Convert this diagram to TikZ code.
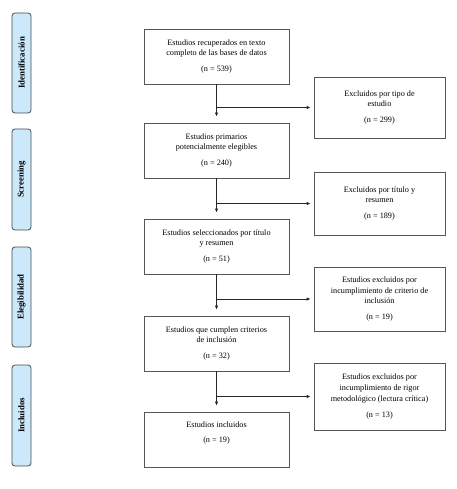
\documentclass[tikz,border=0pt]{standalone}
\usepackage{fontspec}
\setmainfont{Liberation Serif}
\usetikzlibrary{arrows.meta}
\definecolor{phasefill}{HTML}{CCE8FB}
\definecolor{phaseline}{HTML}{4A4A4A}
\definecolor{boxline}{HTML}{555555}
\begin{document}
\begin{tikzpicture}[x=1pt,y=1pt,
  mainbox/.style={draw=boxline, line width=0.8pt, minimum width=145pt, minimum height=55pt, align=center, font=\fontsize{8.2}{10.8}\selectfont, inner sep=2pt},
  exbox/.style={draw=boxline, line width=0.8pt, minimum width=131pt, align=center, font=\fontsize{8.2}{10.8}\selectfont, inner sep=2pt},
  phase/.style={draw=phaseline, line width=0.8pt, fill=phasefill, rounded corners=3pt, minimum width=100pt, minimum height=19pt, rotate=90, font=\fontsize{8.8}{10}\selectfont\bfseries, inner sep=1pt},
  arr/.style={draw=black!85, line width=0.8pt, -{Latex[length=4pt,width=3.5pt]}}
]
\useasboundingbox (0,0) rectangle (456,-489);

% phase labels
\node[phase] (p1) at (21.5,-63) {Identificación};
\node[phase, minimum width=101pt] (p2) at (21.5,-179.5) {Screening};
\node[phase] (p3) at (21.5,-297) {Elegibilidad};
\node[phase, minimum width=101pt] (p4) at (21.5,-415.5) {Incluidos};

% main boxes
\node[mainbox] (b1) at (216.5,-56.5) {Estudios recuperados en texto\\completo de las bases de datos\\[5pt](n = 539)};
\node[mainbox] (b2) at (216.5,-150.5) {Estudios primarios\\potencialmente elegibles\\[5pt](n = 240)};
\node[mainbox] (b3) at (216.5,-246.5) {Estudios seleccionados por título\\y resumen\\[5pt](n = 51)};
\node[mainbox] (b4) at (216.5,-343.5) {Estudios que cumplen criterios\\de inclusión\\[5pt](n = 32)};
\node[mainbox] (b5) at (216.5,-439.5) {Estudios incluidos\\[5pt](n = 19)\\[4pt]};

% exclusion boxes
\node[exbox, minimum height=61pt] (eA) at (379.5,-107.5) {Excluidos por tipo de\\estudio\\[5pt](n = 299)};
\node[exbox, minimum height=63pt] (eB) at (379.5,-203.5) {Excluidos por título y\\resumen\\[5pt](n = 189)};
\node[exbox, minimum height=64pt] (eC) at (379.5,-299) {Estudios excluidos por\\incumplimiento de criterio de\\inclusión\\[5pt](n = 19)};
\node[exbox, minimum height=67pt] (eD) at (379.5,-396.5) {Estudios excluidos por\\incumplimiento de rigor\\metodológico (lectura crítica)\\[5pt](n = 13)};

% junctions
\coordinate (j1) at (b1.south |- eA.west);
\coordinate (j2) at (b2.south |- eB.west);
\coordinate (j3) at (b3.south |- eC.west);
\coordinate (j4) at (b4.south |- eD.west);

% connectors
\draw[arr, shorten >=6pt] (b1) -- (b2);
\draw[arr, shorten >=6pt] (b2) -- (b3);
\draw[arr, shorten >=6pt] (b3) -- (b4);
\draw[arr, shorten >=6pt] (b4) -- (b5);
\draw[arr, shorten >=3pt] (j1) -- (eA);
\draw[arr, shorten >=3pt] (j2) -- (eB);
\draw[arr, shorten >=3pt] (j3) -- (eC);
\draw[arr, shorten >=3pt] (j4) -- (eD);
\end{tikzpicture}
\end{document}
